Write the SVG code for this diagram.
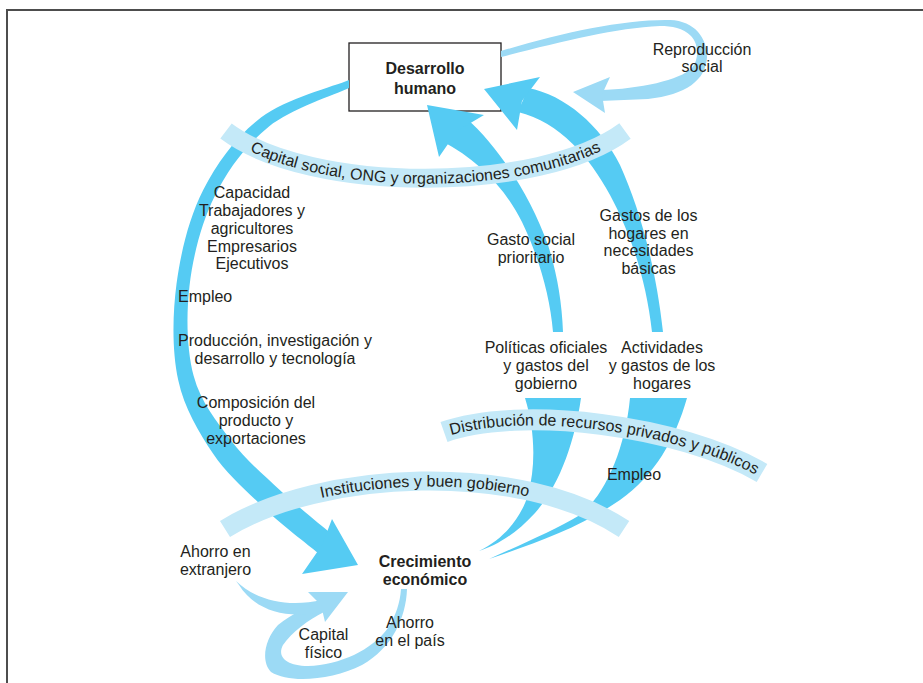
<svg xmlns="http://www.w3.org/2000/svg" width="923" height="683" viewBox="0 0 923 683">
<style>
.lbl{font-family:"Liberation Sans",Arial,sans-serif;font-size:16px;fill:#231F20;text-anchor:middle}
.st{text-anchor:start}
.bold{font-weight:bold}
.main{fill:#55CBF3}
.light{fill:#9CDAF5}
.band{fill:none;stroke:#C4E9F8}
.btxt{font-family:"Liberation Sans",Arial,sans-serif;font-size:16px;fill:#231F20;text-anchor:middle}
</style>
<defs>
<path id="capPath" d="M226,131 C310,194 540,194 625,131"/>
<path id="distPath" d="M444,432 C520,405 680,425 762,473"/>
<path id="instPath" d="M225,529 C320,470 520,460 624,529"/>
</defs>
<rect width="923" height="683" fill="#fff"/>
<g id="frame"><path d="M7,683 V10 H923" fill="none" stroke="#4d4d4d" stroke-width="2"/></g>

<g id="node-desarrollo-humano">
<rect x="349" y="43" width="152" height="68" fill="#fff" stroke="#231F20" stroke-width="1.3"/>
<text class="lbl bold" x="425" y="74" font-size="18">Desarrollo</text>
<text class="lbl bold" x="425" y="94" font-size="18">humano</text>
</g>

<g id="connectors">
<g id="arrow-capacidad">
<path class="main" d="M349,80 C334.4,86.2 285.6,99 261.3,117.3 C237,135.65 217.3,162.3 203.2,190.1 C189.1,217.9 180.7,252.5 176.5,284.1 C172.3,315.7 172.1,351.7 178.2,379.9 C184.3,408.1 198.75,432.1 213,453.4 C227.25,474.7 246.7,490.8 263.7,507.6 C280.7,524.4 309,545.4 318,553 L330.6,533.2 C322.2,526.1 296.9,505.8 280.3,490.4 C263.7,475 245.4,459.6 231,440.6 C216.6,421.6 200.6,401.9 193.7,376.1 C186.8,350.3 186,315.9 189.5,285.9 C193,255.9 201.6,222.4 214.8,195.9 C228,169.4 246.3,144.7 268.7,126.7 C291.1,108.7 335.6,94.45 349,88 Z"/>
<polygon class="main" points="358,565 332,519 322,545 302,574"/>
</g>
<g id="arrow-reproduccion">
<path class="light" d="M501,51 C560,33 625,19 670,20 C695,21 707,38 707,57 C706,80 686,95 648,99 L600,101 L600,90 C640,89 680,80 692,68 C699,60 699,44 691,36 C683,28 672,26 660,26 C615,28 560,42 501,57 Z"/>
<polygon class="light" points="573,92 610,77 602,94.5 605,113"/>
</g>
<g id="arrow-gasto-social">
<path class="main" d="M466,118 C498,146 530,195 548,245 C556,270 562,300 563,332 L553,332 C550,295 538,255 522,222 C505,188 478,160 442,141 Z"/>
<polygon class="main" points="427,105 484,115 457,131 439,157"/>
</g>
<g id="arrow-gastos-hogares">
<path class="main" d="M528,88 C565,95 600,125 620,165 C638,205 655,260 663,332 L652,332 C646,278 630,232 610,195 C590,158 560,122 518,112 Z"/>
<polygon class="main" points="484,89 540,77 522,101 517,130"/>
</g>
<g id="flow-politicas">
<path class="main" d="M525,398 L581,398 C575,440 560,485 535,513 C515,535 495,546 479,551 C502,540 520,520 528,495 C536,465 535,430 525,398 Z"/>
</g>
<g id="flow-actividades">
<path class="main" d="M630,398 L687,398 C675,440 655,475 620,500 C580,528 530,545 489,559 C520,545 555,530 580,515 C605,495 625,450 630,398 Z"/>
</g>
<g id="arrow-ahorro-pais">
<path class="light" d="M407,589 C406,618 392,648 362,665 C332,680 290,684 271,672 C261,662 264,640 278,625 C292,614 306,607 320,602 L324,612 C308,620 292,632 283,645 C277,656 285,666 308,666 C340,665 372,650 388,628 C396,615 400,603 401,589 Z"/>
<path class="light" d="M236,581 C258,602 290,607 322,600 L324,611 C290,620 256,612 239,585 Z"/>
<polygon class="light" points="348,592 308,592 321,605 325,622"/>
</g>
</g>

<g id="bands">
<g id="band-capital-social">
<use href="#capPath" class="band" stroke-width="19"/>
<text class="btxt" transform="translate(0,5.5)"><textPath href="#capPath" startOffset="50%">Capital social, ONG y organizaciones comunitarias</textPath></text>
</g>
<g id="band-distribucion">
<use href="#distPath" class="band" stroke-width="21"/>
<text class="btxt" transform="translate(0,5.5)"><textPath href="#distPath" startOffset="50%">Distribución de recursos privados y públicos</textPath></text>
</g>
<g id="band-instituciones">
<use href="#instPath" class="band" stroke-width="19"/>
<text class="btxt" transform="translate(0,5.5)"><textPath href="#instPath" startOffset="50%">Instituciones y buen gobierno</textPath></text>
</g>
</g>

<g id="node-reproduccion"><text class="lbl" x="702" y="54.5">Reproducción</text><text class="lbl" x="702" y="72">social</text></g>
<g id="node-capacidad">
<text class="lbl" x="252" y="198">Capacidad</text>
<text class="lbl" x="252" y="216">Trabajadores y</text>
<text class="lbl" x="252" y="233.5">agricultores</text>
<text class="lbl" x="252" y="251.5">Empresarios</text>
<text class="lbl" x="252" y="269">Ejecutivos</text>
</g>
<g id="node-empleo-izq"><text class="lbl st" x="178" y="302">Empleo</text></g>
<g id="node-produccion"><text class="lbl" x="275" y="346">Producción, investigación y</text><text class="lbl" x="275" y="364">desarrollo y tecnología</text></g>
<g id="node-composicion"><text class="lbl" x="256" y="408">Composición del</text><text class="lbl" x="256" y="426">producto y</text><text class="lbl" x="256" y="443.5">exportaciones</text></g>
<g id="node-ahorro-extranjero"><text class="lbl" x="215.5" y="557">Ahorro en</text><text class="lbl" x="215.5" y="575">extranjero</text></g>
<g id="node-crecimiento"><text class="lbl bold" x="425" y="566.5">Crecimiento</text><text class="lbl bold" x="425" y="584.5">económico</text></g>
<g id="node-capital-fisico"><text class="lbl" x="323.5" y="640">Capital</text><text class="lbl" x="323.5" y="658">físico</text></g>
<g id="node-ahorro-pais"><text class="lbl" x="410" y="628">Ahorro</text><text class="lbl" x="410" y="646">en el país</text></g>
<g id="node-gasto-social"><text class="lbl" x="531" y="245">Gasto social</text><text class="lbl" x="531" y="262.5">prioritario</text></g>
<g id="node-gastos-hogares"><text class="lbl" x="648.5" y="221">Gastos de los</text><text class="lbl" x="648.5" y="238.5">hogares en</text><text class="lbl" x="648.5" y="256">necesidades</text><text class="lbl" x="648.5" y="273.5">básicas</text></g>
<g id="node-politicas"><text class="lbl" x="546" y="353">Políticas oficiales</text><text class="lbl" x="546" y="371">y gastos del</text><text class="lbl" x="546" y="389">gobierno</text></g>
<g id="node-actividades"><text class="lbl" x="662" y="353">Actividades</text><text class="lbl" x="662" y="371">y gastos de los</text><text class="lbl" x="662" y="389">hogares</text></g>
<g id="node-empleo-der"><text class="lbl" x="634" y="480">Empleo</text></g>
</svg>
